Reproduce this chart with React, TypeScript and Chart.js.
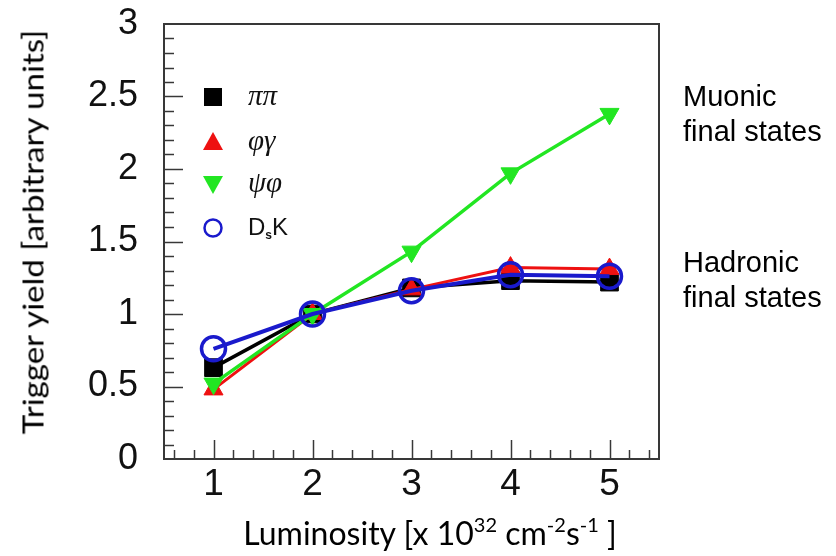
import React, { useEffect, useRef } from 'react';
import { Chart, registerables } from 'chart.js';

Chart.register(...registerables);

// ---- data ----
const luminosity = [1, 2, 3, 4, 5];
const pipi = [0.63, 1.0, 1.18, 1.23, 1.22];
const phigamma = [0.48, 1.0, 1.17, 1.32, 1.31];
const psiphi = [0.52, 1.0, 1.43, 1.97, 2.38];
const dsk = [0.76, 1.0, 1.16, 1.27, 1.26];

const xTickValues = [1, 2, 3, 4, 5];
const xTickLabels = ['1', '2', '3', '4', '5'];
const yTickValues = [0, 0.5, 1, 1.5, 2, 2.5, 3];
const yTickLabels = ['0', '0.5', '1', '1.5', '2', '2.5', '3'];

const seriesNames = ['ππ', 'φγ', 'ψφ', 'D_sK'];
const seriesColors = ['#000000', '#ee1111', '#22e622', '#1a1acc'];

const X_MIN = 0.5;
const X_MAX = 5.5;
const Y_MIN = 0;
const Y_MAX = 3;
const X_MINOR_STEP = 0.2;
const Y_MINOR_STEP = 0.1;

const FRAME_COLOR = '#383838';

const toPoints = (ys: number[]) => luminosity.map((x, i) => ({ x, y: ys[i] }));

const rootAxesPlugin = {
  id: 'rootAxes',
  beforeDatasetsDraw(chart: any) {
    const { ctx, chartArea } = chart;
    const xs = chart.scales.x;
    const ys = chart.scales.y;
    ctx.save();
    ctx.strokeStyle = FRAME_COLOR;
    ctx.lineWidth = 1.5;
    const nY = Math.round((Y_MAX - Y_MIN) / Y_MINOR_STEP);
    for (let i = 1; i < nY; i++) {
      const v = Y_MIN + i * Y_MINOR_STEP;
      const major = yTickValues.some((t) => Math.abs(t - v) < 1e-6);
      const py = Math.round(ys.getPixelForValue(v)) + 0.5;
      const len = major ? 19 : 10;
      ctx.beginPath();
      ctx.moveTo(chartArea.left, py);
      ctx.lineTo(chartArea.left + len, py);
      ctx.stroke();
    }
    for (let i = 0; i < 40; i++) {
      const v = X_MIN + X_MINOR_STEP / 2 + i * X_MINOR_STEP;
      if (v >= X_MAX - 1e-6) break;
      const major = xTickValues.some((t) => Math.abs(t - v) < 1e-6);
      const px = Math.round(xs.getPixelForValue(v)) + 0.5;
      const len = major ? 19 : 9;
      ctx.beginPath();
      ctx.moveTo(px, chartArea.bottom);
      ctx.lineTo(px, chartArea.bottom - len);
      ctx.stroke();
    }
    ctx.lineWidth = 2;
    ctx.strokeRect(chartArea.left, chartArea.top, chartArea.right - chartArea.left, chartArea.bottom - chartArea.top);
    ctx.restore();
  },
};

const legendPlugin = {
  id: 'rootLegend',
  afterDatasetsDraw(chart: any) {
    const { ctx } = chart;
    const mx = 213;
    const tx = 248;
    const rows = [97, 142, 184, 228];
    ctx.save();
    rows.forEach((y, i) => {
      const c = seriesColors[i];
      ctx.fillStyle = c;
      ctx.strokeStyle = c;
      if (i === 0) {
        ctx.fillRect(mx - 9, y - 9, 18, 18);
      } else if (i === 1) {
        ctx.beginPath();
        ctx.moveTo(mx, y - 10);
        ctx.lineTo(mx + 10, y + 8);
        ctx.lineTo(mx - 10, y + 8);
        ctx.closePath();
        ctx.fill();
      } else if (i === 2) {
        ctx.beginPath();
        ctx.moveTo(mx, y + 10);
        ctx.lineTo(mx + 10, y - 8);
        ctx.lineTo(mx - 10, y - 8);
        ctx.closePath();
        ctx.fill();
      } else {
        ctx.lineWidth = 2.5;
        ctx.beginPath();
        ctx.arc(mx, y, 8.5, 0, Math.PI * 2);
        ctx.stroke();
      }
      ctx.fillStyle = '#111';
      ctx.textBaseline = 'middle';
      ctx.textAlign = 'left';
      const name = seriesNames[i];
      if (name.includes('_')) {
        const main = name.split('_')[0];
        const rest = name.split('_')[1];
        const sub = rest.slice(0, 1);
        const tail = rest.slice(1);
        ctx.font = '24px "Liberation Sans", Arial, sans-serif';
        ctx.fillText(main, tx, y);
        let w = ctx.measureText(main).width;
        ctx.font = 'bold 12px "Liberation Sans", Arial, sans-serif';
        ctx.fillText(sub, tx + w, y + 8);
        w += ctx.measureText(sub).width;
        ctx.font = '24px "Liberation Sans", Arial, sans-serif';
        ctx.fillText(tail, tx + w, y);
      } else {
        ctx.font = 'italic 29px "Liberation Serif", "DejaVu Serif", serif';
        ctx.fillText(name, tx, y);
      }
    });
    ctx.restore();
  },
};

export default function App() {
  const ref = useRef<HTMLCanvasElement | null>(null);

  useEffect(() => {
    if (!ref.current) return;
    const datasets = [
      { data: toPoints(pipi), pointStyle: 'rect', pointRadius: 12.5, borderWidth: 3.5, order: 3, pointRotation: 0 },
      { data: toPoints(phigamma), pointStyle: 'triangle', pointRadius: 11, borderWidth: 3, order: 2, pointRotation: 0 },
      { data: toPoints(psiphi), pointStyle: 'triangle', pointRadius: 11, borderWidth: 3.5, order: 1, pointRotation: 180 },
      { data: toPoints(dsk), pointStyle: 'circle', pointRadius: 12, borderWidth: 4, order: 0, pointRotation: 0 },
    ].map((d, i) => ({
      label: seriesNames[i],
      ...d,
      borderColor: seriesColors[i],
      backgroundColor: seriesColors[i],
      pointBackgroundColor: i === 3 ? 'rgba(0,0,0,0)' : seriesColors[i],
      pointBorderColor: seriesColors[i],
      pointBorderWidth: i === 3 ? 3.5 : 1,
      tension: 0,
      fill: false,
    }));

    const chart = new Chart(ref.current, {
      type: 'line',
      data: { datasets: datasets as any },
      options: {
        responsive: false,
        animation: false,
        layout: { padding: { top: 24, right: 177, left: 0, bottom: 0 } },
        plugins: { legend: { display: false }, tooltip: { enabled: false } },
        scales: {
          x: {
            type: 'linear',
            min: X_MIN,
            max: X_MAX,
            grid: { display: false, drawTicks: false },
            border: { display: false },
            afterFit: (s: any) => { s.height = 97; s.paddingLeft = 0; s.paddingRight = 0; },
            afterBuildTicks: (s: any) => { s.ticks = xTickValues.map((v) => ({ value: v })); },
            ticks: {
              padding: 4,
              color: '#111',
              font: { family: '"Liberation Sans", Arial, sans-serif', size: 37 },
              maxRotation: 0,
              autoSkip: false,
              callback: (v: any) => xTickLabels[xTickValues.indexOf(Number(v))] ?? '',
            },
          },
          y: {
            type: 'linear',
            min: Y_MIN,
            max: Y_MAX,
            grid: { display: false, drawTicks: false },
            border: { display: false },
            afterFit: (s: any) => { s.width = 164; s.paddingTop = 0; s.paddingBottom = 0; },
            afterBuildTicks: (s: any) => { s.ticks = yTickValues.map((v) => ({ value: v })); },
            ticks: {
              padding: 26,
              color: '#111',
              autoSkip: false,
              font: { family: '"Liberation Sans", Arial, sans-serif', size: 36 },
              callback: (v: any) => yTickLabels[yTickValues.indexOf(Number(v))] ?? '',
            },
          },
        },
      },
      plugins: [rootAxesPlugin, legendPlugin],
    });
    return () => chart.destroy();
  }, []);

  const sideText: React.CSSProperties = {
    position: 'absolute',
    left: 683,
    font: '29px "Liberation Sans", Arial, sans-serif',
    lineHeight: '35px',
    color: '#000',
    whiteSpace: 'nowrap',
  };
  const supStyle: React.CSSProperties = { fontSize: '20px', lineHeight: 0, verticalAlign: '13px' };

  return (
    <div style={{ position: 'fixed', left: 0, top: 0, width: 836, height: 556, background: '#fff', overflow: 'hidden' }}>
      <canvas ref={ref} width={836} height={556} style={{ position: 'absolute', left: 0, top: 0, width: 836, height: 556 }} />
      <div
        style={{
          position: 'absolute',
          left: 32,
          top: 232,
          transform: 'translate(-50%, -50%) rotate(-90deg) scaleX(1.14)',
          font: '29px Lato, "Open Sans", sans-serif',
          lineHeight: '35px',
          color: '#000',
          whiteSpace: 'nowrap',
        }}
      >
        Trigger yield [arbitrary units]
      </div>
      <div
        style={{
          position: 'absolute',
          left: 430,
          top: 514,
          transform: 'translateX(-50%)',
          font: '32px Lato, "Open Sans", sans-serif',
          lineHeight: '38px',
          color: '#000',
          whiteSpace: 'nowrap',
        }}
      >
        Luminosity [x 10<span style={supStyle}>32</span> cm<span style={supStyle}>-2</span>s<span style={supStyle}>-1</span> ]
      </div>
      <div style={{ ...sideText, top: 79 }}>
        Muonic<br />final states
      </div>
      <div style={{ ...sideText, top: 245 }}>
        Hadronic<br />final states
      </div>
    </div>
  );
}
